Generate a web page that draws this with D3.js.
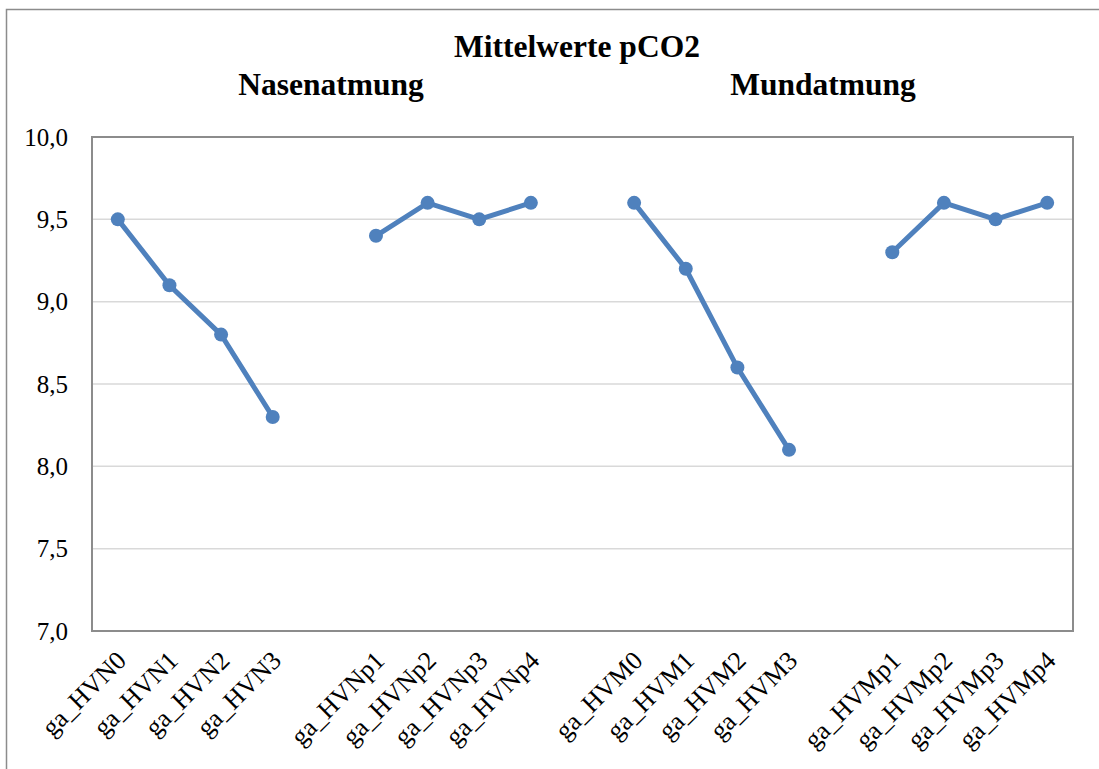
<!DOCTYPE html>
<html>
<head>
<meta charset="utf-8">
<script src="https://cdn.jsdelivr.net/npm/d3@7"></script>
<style>
    body { margin: 0; background: #fff; }
    svg text { font-family: "Liberation Serif", "Times New Roman", serif; fill: #000; }
</style>
</head>
<body>
<div id="chart"></div>
<script>
// slots along the x axis, blank entries mark the gaps between groups
const categories = [
    'ga_HVN0', 'ga_HVN1', 'ga_HVN2', 'ga_HVN3', '',
    'ga_HVNp1', 'ga_HVNp2', 'ga_HVNp3', 'ga_HVNp4', ' ',
    'ga_HVM0', 'ga_HVM1', 'ga_HVM2', 'ga_HVM3', '  ',
    'ga_HVMp1', 'ga_HVMp2', 'ga_HVMp3', 'ga_HVMp4'
];
const nasen = [9.5, 9.1, 8.8, 8.3];
const nasenPost = [9.4, 9.6, 9.5, 9.6];
const mund = [9.6, 9.2, 8.6, 8.1];
const mundPost = [9.3, 9.6, 9.5, 9.6];
const yTicks = [7.0, 7.5, 8.0, 8.5, 9.0, 9.5, 10.0];

const groups = [
    { names: categories.slice(0, 4), values: nasen },
    { names: categories.slice(5, 9), values: nasenPost },
    { names: categories.slice(10, 14), values: mund },
    { names: categories.slice(15, 19), values: mundPost }
];

const width = 1099, height = 769;
const plot = { left: 92, top: 137, right: 1073, bottom: 631 };
const blue = '#4f81bd';
const serif = '"Liberation Serif", "Times New Roman", serif';

const svg = d3.select('#chart').append('svg')
    .attr('width', width)
    .attr('height', height);

// outer chart frame (runs off the right and bottom edge)
svg.append('rect')
    .attr('x', 6.5).attr('y', 9.5)
    .attr('width', 1200).attr('height', 900)
    .attr('fill', 'none')
    .attr('stroke', '#8c8c8c')
    .attr('stroke-width', 1.5);

const x = d3.scaleBand()
    .domain(categories)
    .range([plot.left, plot.right]);

const y = d3.scaleLinear()
    .domain([7, 10])
    .range([plot.bottom, plot.top]);

// gridlines
svg.append('g')
    .selectAll('line')
    .data(yTicks.slice(1, -1))
    .join('line')
    .attr('x1', plot.left).attr('x2', plot.right)
    .attr('y1', d => y(d)).attr('y2', d => y(d))
    .attr('stroke', '#d9d9d9')
    .attr('stroke-width', 1.5);

// plot area border
svg.append('rect')
    .attr('x', plot.left).attr('y', plot.top)
    .attr('width', plot.right - plot.left)
    .attr('height', plot.bottom - plot.top)
    .attr('fill', 'none')
    .attr('stroke', '#8c8c8c')
    .attr('stroke-width', 2);

// y axis labels
const fmt = d => d3.format('.1f')(d).replace('.', ',');
const yAxis = svg.append('g')
    .attr('transform', `translate(${plot.left}, 0)`)
    .call(d3.axisLeft(y).tickValues(yTicks).tickFormat(fmt).tickSize(0).tickPadding(24));
yAxis.select('.domain').remove();
yAxis.selectAll('text')
    .style('font-size', '25px')
    .style('font-family', serif);

// x axis labels, rotated
const xAxis = svg.append('g')
    .attr('transform', `translate(0, ${plot.bottom})`)
    .call(d3.axisBottom(x).tickSize(0).tickPadding(0));
xAxis.select('.domain').remove();
xAxis.selectAll('text')
    .attr('text-anchor', 'end')
    .attr('dy', 0)
    .attr('transform', 'translate(10, 31) rotate(-45)')
    .style('font-size', '26px')
    .style('font-family', serif);

// lines and markers
const cx = d => x(d.name) + x.bandwidth() / 2;
const line = d3.line()
    .x(cx)
    .y(d => y(d.value));

groups.forEach(g => {
    const pts = g.names.map((n, i) => ({ name: n, value: g.values[i] }));
    svg.append('path')
        .datum(pts)
        .attr('d', line)
        .attr('fill', 'none')
        .attr('stroke', blue)
        .attr('stroke-width', 5);
    svg.append('g')
        .selectAll('circle')
        .data(pts)
        .join('circle')
        .attr('cx', cx)
        .attr('cy', d => y(d.value))
        .attr('r', 7)
        .attr('fill', blue);
});

// titles
const titles = [
    { text: 'Mittelwerte pCO2', x: 577, y: 57 },
    { text: 'Nasenatmung', x: 331, y: 95 },
    { text: 'Mundatmung', x: 823, y: 95 }
];
svg.append('g')
    .selectAll('text')
    .data(titles)
    .join('text')
    .attr('x', d => d.x).attr('y', d => d.y)
    .attr('text-anchor', 'middle')
    .style('font-size', '31.5px')
    .style('font-weight', 'bold')
    .style('font-family', serif)
    .text(d => d.text);
</script>
</body>
</html>
